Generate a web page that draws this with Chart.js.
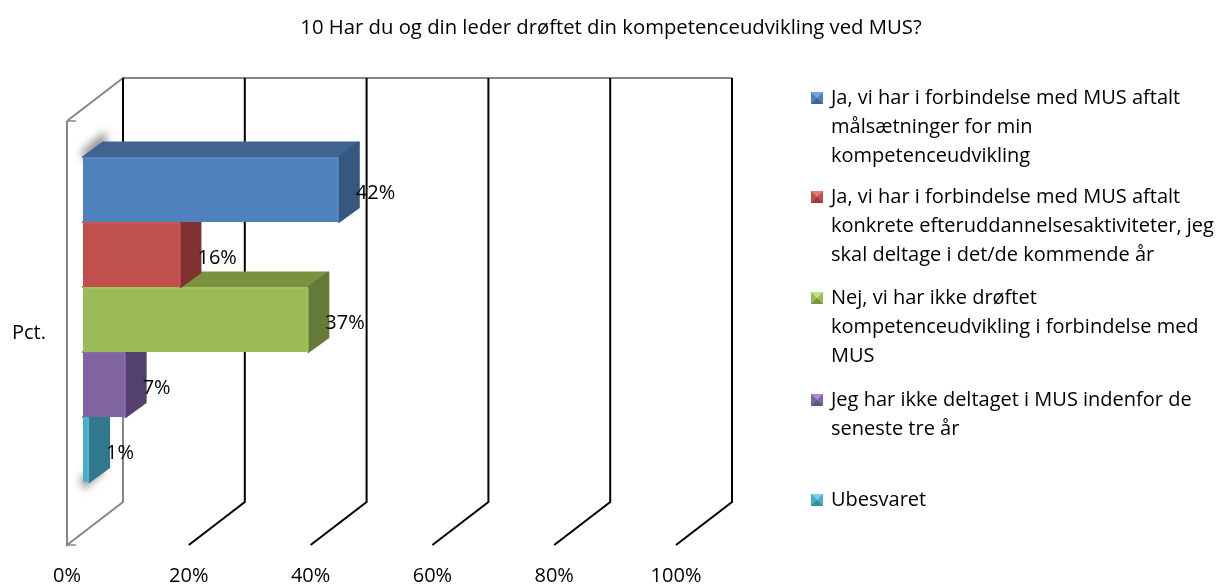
<!DOCTYPE html>
<html lang="da">

<head>
	<meta charset="UTF-8">
	<title>Kompetenceudvikling ved MUS</title>
	<style>
		body {
			margin: 0;
			background-color: white;
		}

		canvas {
			display: block;
		}
	</style>
</head>

<body>
	<canvas id="chart" width="1216" height="585"></canvas>
	<script src="https://cdn.jsdelivr.net/npm/chart.js"></script>
	<script>
		const categories = ['Pct.'];
		const chartTitle = '10 Har du og din leder drøftet din kompetenceudvikling ved MUS?';
		const seriesLabels = [
			['Ja, vi har i forbindelse med MUS aftalt', 'målsætninger for min', 'kompetenceudvikling'],
			['Ja, vi har i forbindelse med MUS aftalt', 'konkrete efteruddannelsesaktiviteter, jeg', 'skal deltage i det/de kommende år'],
			['Nej, vi har ikke drøftet', 'kompetenceudvikling i forbindelse med', 'MUS'],
			['Jeg har ikke deltaget i MUS indenfor de', 'seneste tre år'],
			['Ubesvaret']
		];
		const seriesValues = [42, 16, 37, 7, 1];
		const tickValues = [0, 20, 40, 60, 80, 100];

		const frontColors = ['#4f81bd', '#c0504d', '#9bbb59', '#8064a2', '#4bacc6'];
		const topColors = ['#3f6491', '#98403d', '#7a923f', '#655082', '#3b8aa0'];
		const sideColors = ['#36587f', '#7f3230', '#647a38', '#53406c', '#31798c'];
		const edgeColors = ['#5687c5', '#c85552', '#a3c35f', '#876aab', '#4fb4cf'];
		const swatchLights = ['#72a6e6', '#e57b78', '#c0e57a', '#a88bcc', '#72d2ec'];

		const font = '"Open Sans", "Noto Sans", sans-serif';
		const fontSize = 20;
		const wall = { x: 56, y: -43 };
		const barShift = { x: 16, y: -13.5 };
		const barDepth = { x: 20, y: -14.5 };
		const legendYs = [98, 197, 298, 400, 500];

		function poly(ctx, pts, fill, rounded) {
			ctx.beginPath();
			pts.forEach((p, i) => i ? ctx.lineTo(p[0], p[1]) : ctx.moveTo(p[0], p[1]));
			ctx.closePath();
			ctx.fillStyle = fill;
			ctx.fill();
			if (rounded) {
				ctx.strokeStyle = fill;
				ctx.lineJoin = 'round';
				ctx.lineWidth = 2;
				ctx.stroke();
			}
		}

		function line(ctx, pts, color, width) {
			ctx.beginPath();
			pts.forEach((p, i) => i ? ctx.lineTo(p[0], p[1]) : ctx.moveTo(p[0], p[1]));
			ctx.strokeStyle = color;
			ctx.lineWidth = width;
			ctx.stroke();
		}

		const fake3d = {
			id: 'fake3d',
			afterLayout(chart) {
				// the right padding makes room for the legend, the title still centres on the page
				chart.titleBlock.left = 0;
				chart.titleBlock.right = 1222;
			},
			beforeDatasetsDraw(chart) {
				const { ctx, chartArea: a, scales: { x } } = chart;
				ctx.save();
				// walls and floor lines
				line(ctx, [[a.left, a.top], [a.left + wall.x, a.top + wall.y], [a.left + wall.x, a.bottom + wall.y], [a.left, a.bottom], [a.left, a.top]], '#868686', 2);
				line(ctx, [[a.left, a.top], [a.left + 9, a.top]], '#868686', 1.5);
				line(ctx, [[a.left, a.bottom], [a.left + 9, a.bottom]], '#868686', 1.5);
				line(ctx, [[a.left + wall.x, a.top + wall.y], [a.right + wall.x, a.top + wall.y]], '#868686', 2);
				tickValues.forEach(v => {
					const px = x.getPixelForValue(v);
					if (v === 0) {
						line(ctx, [[px + wall.x, a.top + wall.y], [px + wall.x, a.top + 40]], '#000', 2);
						return;
					}
					line(ctx, [[px + wall.x, a.top + wall.y], [px + wall.x, a.bottom + wall.y], [px, a.bottom]], '#000', 2);
				});
				// soft shadows at both ends of the bar stack
				const first = chart.getDatasetMeta(0).data[0];
				const last = chart.getDatasetMeta(4).data[0];
				const left = first.base + barShift.x;
				const top = first.y - first.height / 2 + barShift.y;
				const bottom = last.y + last.height / 2 + barShift.y;
				ctx.filter = 'blur(4px)';
				poly(ctx, [[left - 1, top + 2], [left - 1, top - 6], [left + 23, top - 26], [left + 23, top - 10]], 'rgba(60,60,60,0.6)');
				poly(ctx, [[left - 2, bottom - 4], [left + 20, bottom - 20], [left + 20, bottom - 10], [left, bottom + 8]], 'rgba(60,60,60,0.6)');
				ctx.restore();
			},
			beforeDatasetDraw(chart, args) {
				const { ctx } = chart;
				const el = args.meta.data[0];
				const i = args.index;
				const t = el.y - el.height / 2;
				const b = el.y + el.height / 2;
				ctx.save();
				ctx.translate(barShift.x, barShift.y);
				poly(ctx, [[el.base, t], [el.base + barDepth.x, t + barDepth.y], [el.x + barDepth.x, t + barDepth.y], [el.x, t]], topColors[i], true);
				poly(ctx, [[el.x, t], [el.x + barDepth.x, t + barDepth.y], [el.x + barDepth.x, b + barDepth.y], [el.x, b]], sideColors[i], true);
			},
			afterDatasetDraw(chart, args) {
				const { ctx } = chart;
				const el = args.meta.data[0];
				const i = args.index;
				const t = el.y - el.height / 2;
				const b = el.y + el.height / 2;
				line(ctx, [[el.base, t + 1], [el.x - 1, t + 1], [el.x - 1, b]], edgeColors[i], 2);
				ctx.restore();
			},
			afterDatasetsDraw(chart) {
				const { ctx } = chart;
				ctx.save();
				ctx.fillStyle = '#000';
				ctx.font = fontSize + 'px ' + font;
				ctx.textBaseline = 'middle';
				// value labels
				seriesValues.forEach((v, i) => {
					const el = chart.getDatasetMeta(i).data[0];
					ctx.fillText(v + '%', el.x + barShift.x + 17, el.y + barShift.y + 4);
				});
				// legend
				seriesLabels.forEach((lines, i) => {
					const y = legendYs[i];
					const sx = 811, sy = y - 6, s = 12, c = s / 2;
					poly(ctx, [[sx, sy], [sx + s, sy], [sx + s, sy + s], [sx, sy + s]], frontColors[i]);
					poly(ctx, [[sx, sy], [sx + s, sy], [sx + c, sy + c]], swatchLights[i]);
					poly(ctx, [[sx, sy + s], [sx + s, sy + s], [sx + c, sy + c]], topColors[i]);
					ctx.fillStyle = '#000';
					lines.forEach((t, n) => ctx.fillText(t, 831, y + n * 29));
				});
				ctx.restore();
			}
		};

		new Chart(document.getElementById('chart'), {
			type: 'bar',
			data: {
				labels: categories,
				datasets: seriesLabels.map((lines, i) => ({
					label: lines.join(' '),
					data: [seriesValues[i]],
					backgroundColor: frontColors[i],
					borderRadius: 2
				}))
			},
			options: {
				indexAxis: 'y',
				responsive: false,
				animation: false,
				categoryPercentage: 0.7665,
				barPercentage: 1,
				layout: { padding: { right: 540 } },
				plugins: {
					legend: { display: false },
					tooltip: { enabled: false },
					title: {
						display: true,
						text: chartTitle,
						color: '#000',
						font: { family: font, size: 20.3, weight: 'normal', lineHeight: 1.2 },
						padding: { top: 16, bottom: 80.6 }
					}
				},
				scales: {
					x: {
						min: 0,
						max: 100,
						grid: { display: false },
						border: { display: false },
						afterFit(scale) { scale.height = 40; },
						afterBuildTicks(scale) { scale.ticks = tickValues.map(value => ({ value })); },
						ticks: {
							color: '#000',
							padding: 11,
							maxRotation: 0,
							autoSkip: false,
							font: { family: font, size: fontSize },
							callback: v => v + '%'
						}
					},
					y: {
						grid: { display: false },
						border: { display: false },
						afterFit(scale) { scale.width = 67; },
						ticks: {
							color: '#000',
							padding: 13,
							font: { family: font, size: fontSize }
						}
					}
				}
			},
			plugins: [fake3d]
		});
	</script>
</body>

</html>
